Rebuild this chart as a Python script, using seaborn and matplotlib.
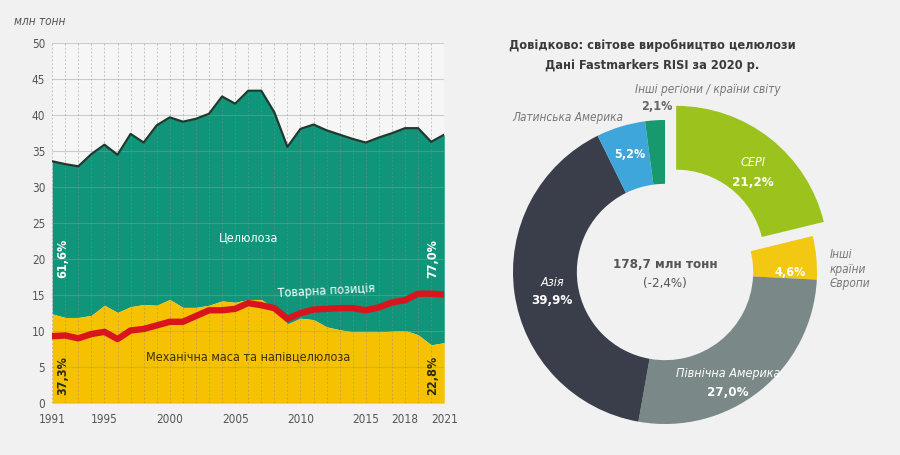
import matplotlib
matplotlib.use("Agg")
import matplotlib.pyplot as plt
import seaborn as sns
import pandas as pd

sns.set_theme(style="white")
FONT = ["DejaVu Sans"]
plt.rcParams["font.family"] = FONT
plt.rcParams["font.stretch"] = "condensed"

GREEN, YELLOW, RED, DARK = "#10957a", "#f6c200", "#d9141c", "#1f3a2d"
GREY_TXT = "#555555"

# ── дані: ліва діаграма (млн тонн) ──
years = list(range(1991, 2022))
total = [33.6, 33.2, 32.9, 34.6, 35.9, 34.5, 37.4, 36.2, 38.6, 39.7,
         39.1, 39.5, 40.2, 42.6, 41.6, 43.4, 43.4, 40.4, 35.6, 38.1,
         38.7, 37.9, 37.3, 36.7, 36.2, 36.9, 37.5, 38.2, 38.2, 36.3, 37.3]
mech = [12.4, 11.9, 11.9, 12.2, 13.6, 12.6, 13.4, 13.7, 13.6, 14.4,
        13.3, 13.3, 13.6, 14.2, 14.0, 14.4, 14.4, 13.2, 11.0, 11.8,
        11.6, 10.6, 10.2, 9.9, 9.9, 9.9, 10.0, 10.1, 9.5, 8.1, 8.4]
market = [9.3, 9.4, 9.0, 9.6, 9.9, 8.9, 10.1, 10.3, 10.8, 11.3,
          11.3, 12.1, 12.9, 12.9, 13.1, 13.9, 13.6, 13.2, 11.7, 12.5,
          13.0, 13.1, 13.2, 13.2, 12.9, 13.3, 14.0, 14.3, 15.2, 15.2, 15.1]
x_ticks = [1991, 1995, 2000, 2005, 2010, 2015, 2018, 2021]

# ── дані: кільцева діаграма (2020) ──
regions = ["CEPI", "Інші країни Європи", "Північна Америка", "Азія",
           "Латинська Америка", "Інші регіони / країни світу"]
shares = [21.2, 4.6, 27.0, 39.9, 5.2, 2.1]
ring_colors = ["#9cc31d", "#f2c812", "#7a8987", "#393e4a", "#3fa6db", "#17986f"]

df = pd.DataFrame({"year": years, "total": total, "mech": mech, "market": market})

fig = plt.figure(figsize=(9, 4.55), dpi=100)
fig.patch.set_facecolor("#f1f1f1")

# ── ліва частина ──
ax = fig.add_axes([0.058, 0.114, 0.4356, 0.791])
ax.set_facecolor("#f6f6f6")
ax.fill_between(df["year"], df["mech"], df["total"], color=GREEN, lw=0, zorder=1)
ax.fill_between(df["year"], 0, df["mech"], color=YELLOW, lw=0, zorder=1)
sns.lineplot(data=df, x="year", y="total", color=DARK, lw=1.6, ax=ax, zorder=3)
sns.lineplot(data=df, x="year", y="market", color=RED, lw=4.6, ax=ax, zorder=4)

for y in range(0, 51, 5):
    ax.axhline(y, color="#9a9a9a", lw=0.8, alpha=0.45, zorder=2)
for yr in years:
    ax.axvline(yr, color="#8a8a8a", lw=0.7, ls=(0, (2, 2)), alpha=0.45, zorder=2)

ax.set_xlim(1991, 2021)
ax.set_ylim(0, 50)
ax.set_xticks(x_ticks)
ax.set_yticks(range(0, 51, 5))
ax.tick_params(axis="both", labelsize=8.5, colors=GREY_TXT, length=0)
ax.tick_params(axis="x", pad=7)
ax.tick_params(axis="y", pad=5)
ax.set_xlabel("")
ax.set_ylabel("")
for s in ax.spines.values():
    s.set_visible(False)

fig.text(0.016, 0.944, "млн тонн", fontsize=8.5, style="italic", color=GREY_TXT)
lab = dict(ha="center", va="center", zorder=5, fontsize=9)
ax.text(2006, 23.0, "Целюлоза", color="white", **lab)
ax.text(2012, 15.6, "Товарна позиція", color="white", rotation=3, **lab)
ax.text(2006, 6.4, "Механічна маса та напівцелюлоза", color="#3a3000", **lab)
pct = dict(ha="center", va="center", zorder=5, fontsize=9, fontweight="bold", rotation=90)
ax.text(1991.8, 20.1, "61,6%", color="white", **pct)
ax.text(2020.1, 20.1, "77,0%", color="white", **pct)
ax.text(1991.8, 3.8, "37,3%", color="#2a2a1a", **pct)
ax.text(2020.1, 3.8, "22,8%", color="#2a2a1a", **pct)

# ── права частина: кільце ──
ax2 = fig.add_axes([480 / 900, 0, 420 / 900, 1])
cx, cy, r = 665, 455 - 272, 152
ax2.pie(shares, colors=ring_colors, startangle=90, counterclock=False,
        explode=[18, 0, 0, 0, 0, 0], center=(cx, cy), radius=r,
        wedgeprops=dict(width=r * 0.42, linewidth=0), frame=True)
ax2.set_xlim(480, 900)
ax2.set_ylim(0, 455)
ax2.axis("off")


def t(x, y, s, **kw):
    ax2.text(x, 455 - y, s, ha="center", va="center", **kw)


t(652, 46, "Довідково: світове виробництво целюлози", fontsize=9.2,
  fontweight="bold", color="#3a3a3a")
t(652, 65, "Дані Fastmarkers RISI за 2020 р.", fontsize=9.2,
  fontweight="bold", color="#3a3a3a")
t(708, 90, "Інші регіони / країни світу", fontsize=8.5, style="italic", color="#777777")
t(657, 107, "2,1%", fontsize=9, fontweight="bold", color="#666666")
t(568, 118, "Латинська Америка", fontsize=8.5, style="italic", color="#777777")
t(630, 155, "5,2%", fontsize=9, fontweight="bold", color="white")
t(753, 163, "CEPI", fontsize=9, style="italic", color="white")
t(753, 182, "21,2%", fontsize=9.5, fontweight="bold", color="white")
ax2.text(830, 455 - 269, "Інші\nкраїни\nЄвропи", ha="left", va="center",
         fontsize=8.5, style="italic", color="#777777", linespacing=1.15)
t(790, 273, "4,6%", fontsize=9, fontweight="bold", color="white")
t(665, 264, "178,7 млн тонн", fontsize=9.5, fontweight="bold", color="#555555")
t(665, 283, "(-2,4%)", fontsize=9.5, color="#555555")
t(552, 282, "Азія", fontsize=9, style="italic", color="white")
t(552, 300, "39,9%", fontsize=9.5, fontweight="bold", color="white")
t(728, 374, "Північна Америка", fontsize=9, style="italic", color="white")
t(728, 392, "27,0%", fontsize=9.5, fontweight="bold", color="white")

fig.savefig("out.png", dpi=100, facecolor=fig.get_facecolor())
